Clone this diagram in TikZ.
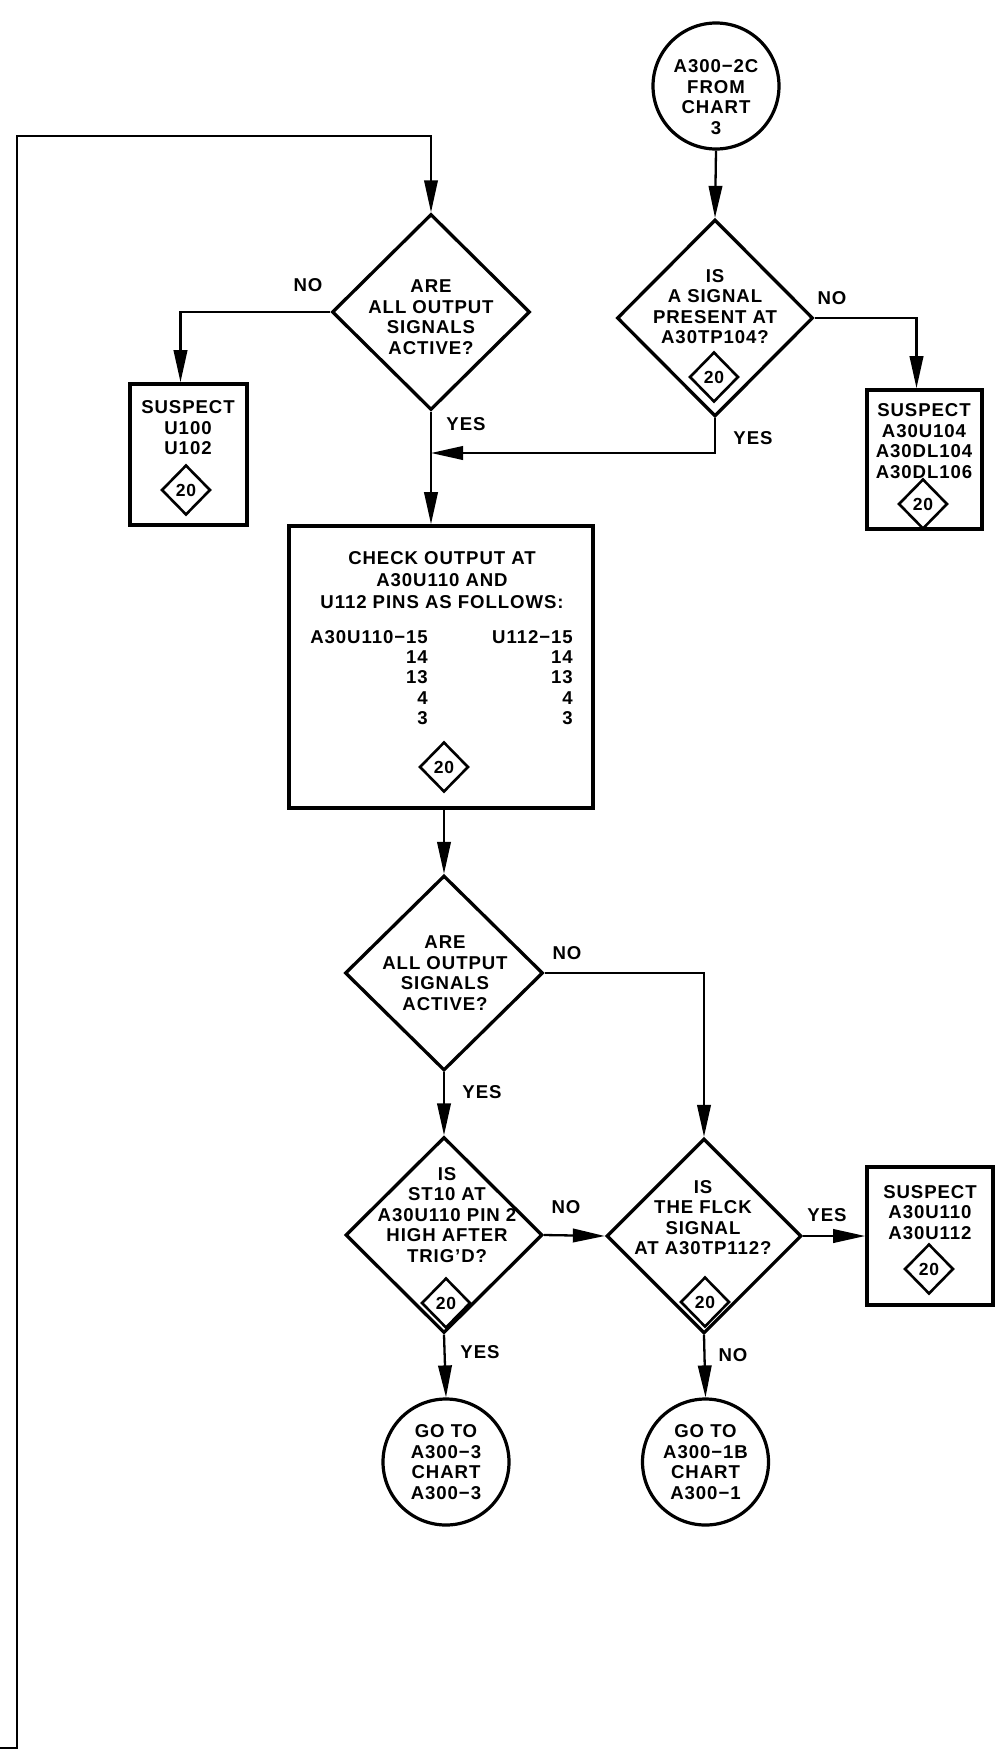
\documentclass[tikz,border=0pt]{standalone}
\usepackage{fontspec}
\setmainfont{Liberation Sans}[LetterSpace=5]
\usetikzlibrary{arrows.meta,shapes.geometric}
\begin{document}
\begin{tikzpicture}[x=1pt,y=-1pt,
  txt/.style={font=\bfseries\fontsize{18.6}{20.5}\selectfont, align=center, inner sep=0pt},
  lbl/.style={font=\bfseries\fontsize{18.6}{20.5}\selectfont, inner sep=0pt},
  dia/.style={draw, diamond, line width=3.3pt, inner sep=0pt},
  boxx/.style={draw, rectangle, line width=3.6pt, inner sep=0pt},
  circ/.style={draw, circle, line width=3.2pt, minimum size=126pt, inner sep=0pt},
  refd/.style={draw, diamond, line width=2.6pt, minimum width=49pt, minimum height=50pt, inner sep=0pt, font=\bfseries\fontsize{17.5}{18}\selectfont},
  conn/.style={line width=2.3pt},
  arr/.style={conn, -{Triangle[length=32pt,width=13.5pt]}},
]
\fill[white] (0,0) rectangle (997,1751);
\useasboundingbox (0,0) rectangle (997,1751);

% ---- shapes ----
\node[circ] (c0) at (716,86) {};
\node[txt] (tc0) at (716,97) {A300−2C\\FROM\\CHART\\3};

\node[dia, minimum width=198pt, minimum height=196pt] (d1) at (431,312) {};
\node[txt] (t1) at (431,317) {ARE\\ALL OUTPUT\\SIGNALS\\ACTIVE?};

\node[boxx, minimum width=117pt, minimum height=141pt] (b1) at (188.5,454.5) {};
\node[txt] (tb1) at (188,428) {SUSPECT\\U100\\U102};
\node[refd] (r1) at (186,490) {20};

\node[dia, minimum width=196pt, minimum height=197pt] (d2) at (715,318) {};
\node[txt] (t2) at (715,306.5) {IS\\A SIGNAL\\PRESENT AT\\A30TP104?};
\node[refd] (r2) at (714,377) {20};

\node[boxx, minimum width=115pt, minimum height=139pt] (b2) at (924.5,459.5) {};
\node[txt] (tb2) at (924,441) {SUSPECT\\A30U104\\A30DL104\\A30DL106};
\node[refd] (r3) at (923,504) {20};

\coordinate (m) at (431,453);

\node[boxx, minimum width=304pt, minimum height=282pt] (B) at (441,667) {};
\node[txt, font=\bfseries\fontsize{18.6}{22}\selectfont] (tB) at (442,580) {CHECK OUTPUT AT\\A30U110 AND\\U112 PINS AS FOLLOWS:};
\node[txt, align=right, anchor=east, font=\bfseries\fontsize{18.6}{20.25}\selectfont] (tBl) at (428,677.5) {A30U110−15\\14\\13\\4\\3};
\node[txt, align=right, anchor=east, font=\bfseries\fontsize{18.6}{20.25}\selectfont] (tBr) at (573,677.5) {U112−15\\14\\13\\4\\3};
\node[refd] (r4) at (444,767) {20};

\node[dia, minimum width=198pt, minimum height=195pt] (d3) at (444,973) {};
\node[txt] (t3) at (445,973) {ARE\\ALL OUTPUT\\SIGNALS\\ACTIVE?};

\node[dia, minimum width=197pt, minimum height=196pt] (d4) at (444,1235) {};
\node[txt] (t4) at (447,1215) {IS\\ST10 AT\\A30U110 PIN 2\\HIGH AFTER\\TRIG’D?};
\node[refd] (r5) at (446,1303) {20};

\node[dia, minimum width=195pt, minimum height=195pt] (d5) at (704,1236) {};
\node[txt] (t5) at (703,1217.5) {IS\\THE FLCK\\SIGNAL\\AT A30TP112?};
\node[refd] (r6) at (705,1302) {20};

\node[boxx, minimum width=126pt, minimum height=138pt] (b3) at (930,1236) {};
\node[txt] (tb3) at (930,1212.5) {SUSPECT\\A30U110\\A30U112};
\node[refd] (r7) at (929,1269) {20};

\node[circ] (c4) at (446,1462) {};
\node[txt] (tc4) at (446,1462) {GO TO\\A300−3\\CHART\\A300−3};
\node[circ] (c5) at (705.5,1462) {};
\node[txt] (tc5) at (705.5,1462) {GO TO\\A300−1B\\CHART\\A300−1};

% ---- labels ----
\node[lbl] (no1) at (308,285) {NO};
\node[lbl] (yes1) at (466,424) {YES};
\node[lbl] (no2) at (832,298) {NO};
\node[lbl] (yes2) at (753,438) {YES};
\node[lbl] (no3) at (567,953) {NO};
\node[lbl] (yes3) at (482,1092) {YES};
\node[lbl] (no4) at (566,1207) {NO};
\node[lbl] (yes5) at (827,1215) {YES};
\node[lbl] (yes4) at (480,1352) {YES};
\node[lbl] (no5) at (733,1355) {NO};

% ---- connectors ----
\coordinate (loopstart) at (0,1748);
\coordinate (loopcorner) at (17,1748);
\coordinate (looptop) at (431,136);
\draw[arr, line width=2pt] (loopstart) -- (loopcorner) |- (looptop) -- (d1.north);
\draw[arr] (d1.west) -| ([xshift=-8pt]b1.north);
\draw[arr] (d1.south) -- (d1.south |- B.north);
\draw[arr] (d2.south) |- (m);
\draw[arr] (c0.south) -- (d2.north);
\draw[arr] (d2.east) -| ([xshift=-8pt]b2.north);
\draw[arr] (d3.north |- B.south) -- (d3.north);
\draw[arr] (d3.east) -| (d5.north);
\draw[arr] (d3.south) -- (d4.north);
\draw[arr] (d4.east) -- (d5.west);
\draw[arr] (d5.east) -- (b3.west);
\draw[arr] (d4.south) -- (c4.north);
\draw[arr] (d5.south) -- (c5.north);
\end{tikzpicture}
\end{document}
